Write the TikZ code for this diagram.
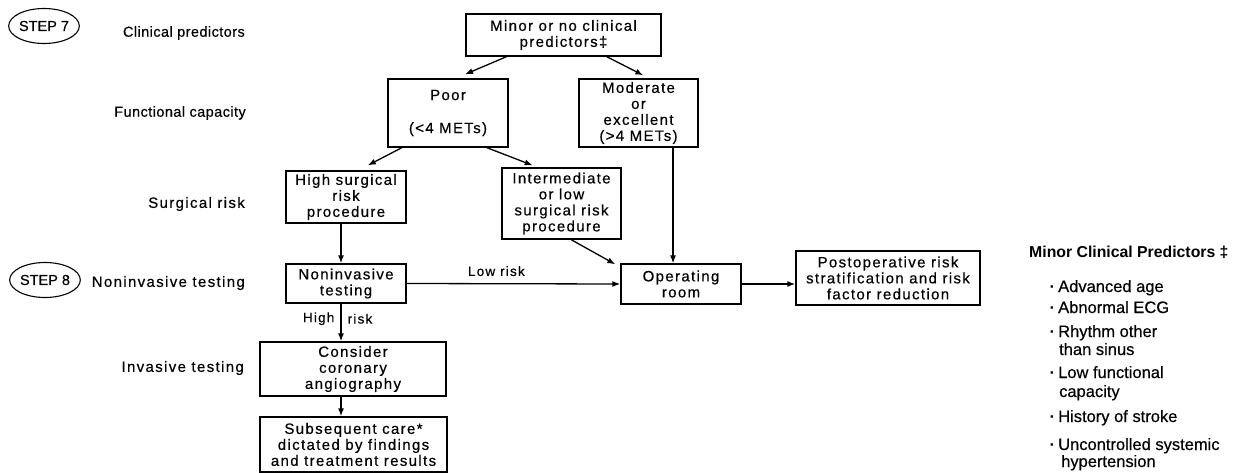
\documentclass[tikz,border=0pt]{standalone}
\usepackage{fontspec}
\setmainfont{Liberation Sans}[FakeBold=0.4]
\newfontfamily\boxfont{Liberation Sans}[LetterSpace=9,FakeBold=0.4]
\newfontfamily\labfont{Liberation Sans}[LetterSpace=3,FakeBold=0.4]
\newfontfamily\headfont{Liberation Sans Bold}
\newfontfamily\dotfont{Liberation Sans Bold}
\usetikzlibrary{shapes.geometric,calc,arrows.meta}

\begin{document}
\begin{tikzpicture}[x=1pt,y=-1pt,
  flowbox/.style={draw, line width=1.3pt, inner sep=0pt, align=center,
    font=\boxfont\fontsize{15}{16}\selectfont},
  rowlabel/.style={anchor=east, inner sep=0pt, font=\boxfont\fontsize{15}{16}\selectfont},
  rowlabelb/.style={anchor=east, inner sep=0pt, font=\labfont\fontsize{14.5}{16}\selectfont},
  stepmark/.style={draw, ellipse, line width=1.1pt, inner sep=0pt,
    minimum width=64pt, minimum height=35pt, font=\fontsize{14.5}{16}\selectfont},
  arr/.style={line width=1.3pt, -{Latex[length=8pt,width=6pt]}},
  edgelabel/.style={font=\boxfont\fontsize{13.5}{15}\selectfont, inner sep=0pt},
  listline/.style={anchor=base west, inner sep=0pt, font=\fontsize{16.5}{18}\selectfont},
]
% canvas
\path[use as bounding box, fill=white] (0,0) rectangle (1241,473);

% step markers and row labels
\node[stepmark] (s7) at (44,26) {STEP 7};
\node[stepmark] (s8) at (45,280) {STEP 8};
\node[rowlabelb] (l1) at (245,33) {Clinical predictors};
\node[rowlabelb] (l2) at (246,113) {Functional capacity};
\node[rowlabel] (l3) at (245,204) {Surgical risk};
\node[rowlabel] (l4) at (245,283) {Noninvasive testing};
\node[rowlabel] (l5) at (244,368) {Invasive testing};

% flowchart boxes
\node[flowbox, minimum width=195pt, minimum height=42pt] (top) at (563.5,35)
  {Minor or no clinical\\predictors‡};
\node[flowbox, minimum width=120pt, minimum height=68pt] (poor) at (448,113)
  {Poor\\[17pt](<4 METs)};
\node[flowbox, minimum width=119pt, minimum height=68pt] (mod) at (638.5,113)
  {Moderate\\or\\excellent\\(>4 METs)};
\node[flowbox, minimum width=120pt, minimum height=52pt] (high) at (346,197)
  {High surgical\\risk\\procedure};
\node[flowbox, minimum width=119pt, minimum height=71pt] (interm) at (561.5,203.5)
  {Intermediate\\or low\\surgical risk\\procedure};
\node[flowbox, minimum width=120pt, minimum height=39pt] (noninv) at (346,283.5)
  {Noninvasive\\testing};
\node[flowbox, minimum width=120pt, minimum height=40pt] (or) at (681,284)
  {Operating\\room};
\node[flowbox, minimum width=184pt, minimum height=54pt] (post) at (888,278)
  {Postoperative risk\\stratification and risk\\factor reduction};
\node[flowbox, minimum width=186pt, minimum height=54pt] (cons) at (353,369)
  {Consider\\coronary\\angiography};
\node[flowbox, minimum width=187pt, minimum height=55pt] (subs) at (353.5,444.5)
  {Subsequent care*\\dictated by findings\\and treatment results};

% vertical guide lines for the straight connectors
\coordinate (vx) at (341,0);
\coordinate (mx) at (673,0);

% connectors
\draw[arr] ($(top.south west)!0.21!(top.south east)$) -- ($(poor.north west)!0.64!(poor.north east)+(0,-4)$);
\draw[arr] ($(top.south west)!0.72!(top.south east)$) -- ($(mod.north west)!0.54!(mod.north east)+(0,-3)$);
\draw[arr] ($(poor.south west)!0.12!(poor.south east)$) -- ($(high.north west)!0.68!(high.north east)+(0,-5)$);
\draw[arr] ($(poor.south west)!0.82!(poor.south east)$) -- ($(interm.north west)!0.26!(interm.north east)+(0,-2)$);
\draw[arr] ($(interm.south west)!0.58!(interm.south east)$) -- ($(or.north west)+(-5,1)$);
\draw[arr] (mod.south -| mx) -- (or.north -| mx);
\draw[arr] (high.south -| vx) -- (noninv.north -| vx);
\draw[arr] (noninv.east) -- node[edgelabel, pos=0.42, above=7pt] (lowrisk) {Low risk} (or.west);
\draw[arr] (noninv.south -| vx) --
  node[edgelabel, pos=0.4, anchor=east, xshift=-6pt] (hlab) {High}
  node[edgelabel, pos=0.4, anchor=west, xshift=6pt] (rlab) {risk}
  (cons.north -| vx);
\draw[arr] (cons.south -| vx) -- (subs.north -| vx);
\draw[arr] (or.east) -- (or.east -| post.west);

% legend of minor clinical predictors
\newcommand{\itemdot}{\llap{{\dotfont ·}\hspace{3pt}}}
\node[anchor=base west, inner sep=0pt, font=\headfont\fontsize{15.8}{18}\selectfont] (mcp)
  at (1029,257) {Minor Clinical Predictors ‡};
\node[listline] (p1) at (1058,292) {\itemdot Advanced age};
\node[listline] (p2) at (1058,313) {\itemdot Abnormal ECG};
\node[listline] (p3) at (1058,337) {\itemdot Rhythm other};
\node[listline] (p3b) at (1059,355) {than sinus};
\node[listline] (p4) at (1058,378) {\itemdot Low functional};
\node[listline] (p4b) at (1059,397) {capacity};
\node[listline] (p5) at (1058,422) {\itemdot History of stroke};
\node[listline] (p6) at (1058,450) {\itemdot Uncontrolled systemic};
\node[listline] (p6b) at (1061,467) {hypertension};
\end{tikzpicture}
\end{document}
